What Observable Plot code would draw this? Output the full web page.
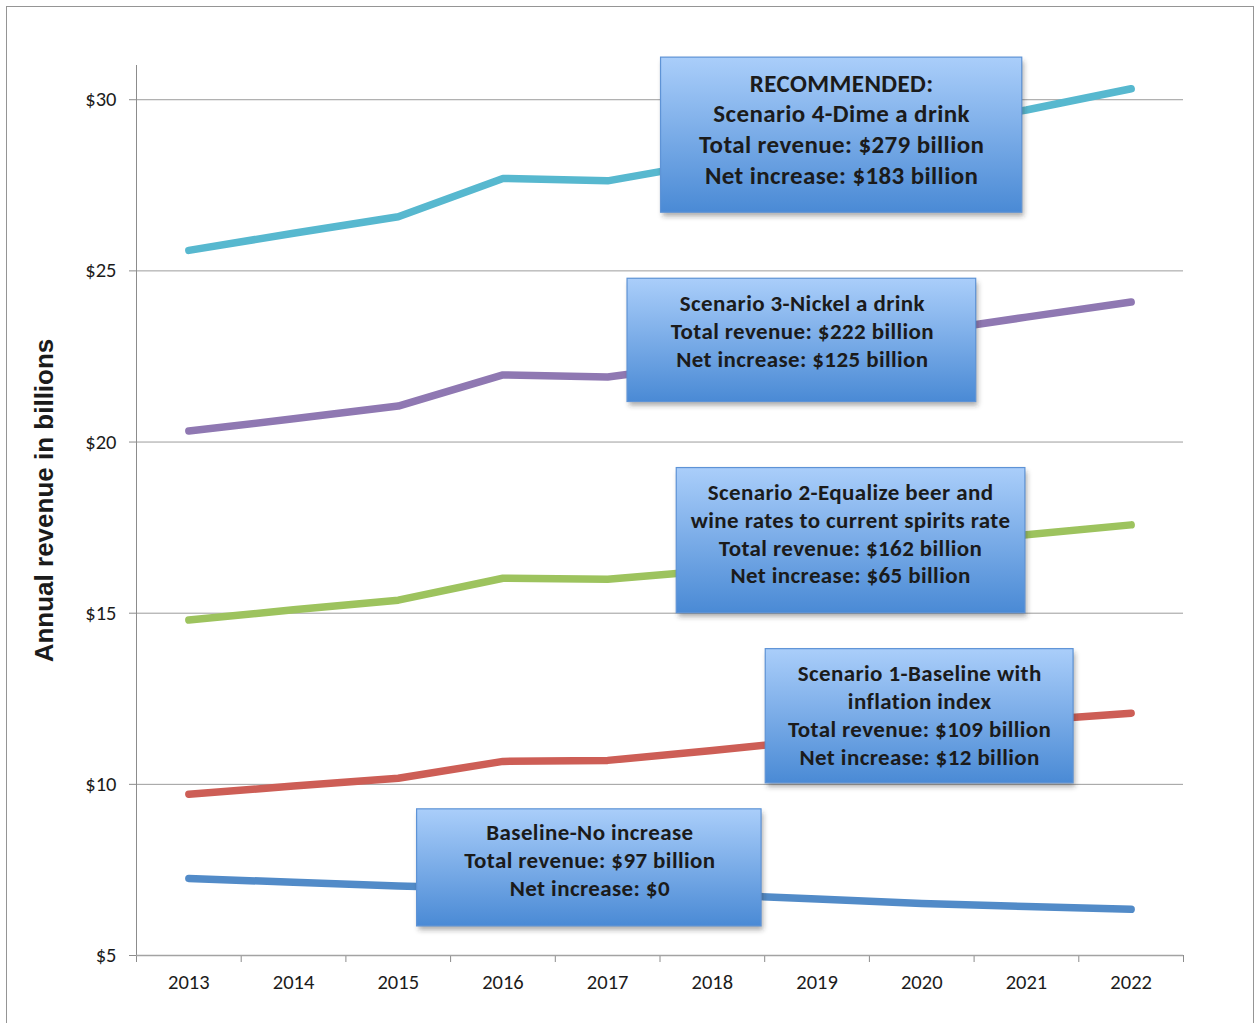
<!DOCTYPE html>
<html><head><meta charset="utf-8">
<script src="https://cdn.jsdelivr.net/npm/d3@7"></script>
<script src="https://cdn.jsdelivr.net/npm/@observablehq/plot@0.6"></script>
<style>
html,body{margin:0;padding:0;background:#fff;overflow:hidden;}
#frame{position:absolute;left:6px;top:6px;width:1246px;height:1100px;border:1.5px solid #959595;pointer-events:none;}
#chart svg text{fill:#1b1b1b;}
</style></head><body><div id="chart"></div><div id="frame"></div>
<script>
const years = [2013, 2014, 2015, 2016, 2017, 2018, 2019, 2020, 2021, 2022];
const baseline  = [7.25, 7.14, 7.03, 6.95, 6.87, 6.78, 6.65, 6.52, 6.43, 6.35];
const scenario1 = [9.71, 9.95, 10.18, 10.67, 10.70, 10.99, 11.30, 11.60, 11.86, 12.08];
const scenario2 = [14.80, 15.10, 15.38, 16.02, 15.99, 16.25, 16.60, 16.95, 17.29, 17.58];
const scenario3 = [20.32, 20.68, 21.05, 21.96, 21.90, 22.30, 22.75, 23.20, 23.65, 24.09];
const scenario4 = [25.60, 26.10, 26.58, 27.70, 27.63, 28.17, 28.68, 29.19, 29.70, 30.32];
const yTicks = [5, 10, 15, 20, 25, 30];
const yTickLabels = ["$5", "$10", "$15", "$20", "$25", "$30"];
const yTitle = "Annual revenue in billions";

const seriesNames = ["Baseline", "Scenario 1", "Scenario 2", "Scenario 3", "Scenario 4"];
const seriesValues = [baseline, scenario1, scenario2, scenario3, scenario4];
const seriesColors = ["#528BC8", "#CD5E56", "#9DC35E", "#8F78B2", "#57B8CF"];

const annotationTexts = [
  "Baseline-No increase\nTotal revenue: $97 billion\nNet increase: $0",
  "Scenario 1-Baseline with\ninflation index\nTotal revenue: $109 billion\nNet increase: $12 billion",
  "Scenario 2-Equalize beer and\nwine rates to current spirits rate\nTotal revenue: $162 billion\nNet increase: $65 billion",
  "Scenario 3-Nickel a drink\nTotal revenue: $222 billion\nNet increase: $125 billion",
  "RECOMMENDED:\nScenario 4-Dime a drink\nTotal revenue: $279 billion\nNet increase: $183 billion"
];
// annotation layout (data units)
const boxes = [
  {x1: 2015.18, x2: 2018.47, y1: 5.85, y2: 9.27, tx: 2016.83, ty: 7.81, size: 23, lh: 1.21},
  {x1: 2018.51, x2: 2021.45, y1: 10.03, y2: 13.95, tx: 2019.98, ty: 12.05, size: 23, lh: 1.21},
  {x1: 2017.66, x2: 2020.99, y1: 15.0, y2: 19.24, tx: 2019.32, ty: 17.35, size: 23, lh: 1.21},
  {x1: 2017.19, x2: 2020.52, y1: 21.17, y2: 24.77, tx: 2018.86, ty: 23.28, size: 23, lh: 1.22},
  {x1: 2017.51, x2: 2020.96, y1: 26.70, y2: 31.23, tx: 2019.235, ty: 29.18, size: 25, lh: 1.228}
].map((b, i) => ({...b, text: annotationTexts[i]}));

const rows = seriesNames.map((name, s) => years.map((year, i) => ({series: name, year, value: seriesValues[s][i]})));
const boundaries = d3.range(years[0] - 0.5, years[years.length - 1] + 1, 1);

const boxFont = "Carlito, Lato, sans-serif";

const chart = Plot.plot({
  width: 1260,
  height: 1023,
  marginTop: 65,
  marginRight: 77,
  marginBottom: 68,
  marginLeft: 136,
  style: {fontFamily: "Carlito, Lato, sans-serif", fontSize: "20.5px", color: "#8c8c8c", background: "white"},
  x: {domain: [years[0] - 0.5, years[years.length - 1] + 0.5], ticks: boundaries, tickFormat: () => "", tickSize: 7, label: null},
  y: {domain: [5, 31], ticks: yTicks, tickFormat: d => yTickLabels[yTicks.indexOf(d)], tickSize: 7, tickPadding: 13, label: null},
  marks: [
    Plot.ruleY(yTicks.slice(1), {stroke: "#9c9c9c", strokeWidth: 1}),
    Plot.ruleX([boundaries[0]], {stroke: "#8c8c8c", strokeWidth: 1}),
    Plot.ruleY([5], {stroke: "#a3a3a3", strokeWidth: 1.5}),
    ...rows.map((r, s) => Plot.line(r, {x: "year", y: "value", stroke: seriesColors[s], strokeWidth: 7.5, strokeLinecap: "round", strokeLinejoin: "round"})),
    Plot.rect(boxes, {x1: "x1", x2: "x2", y1: "y1", y2: "y2", fill: "#333333", fillOpacity: 0.4, dx: 2, dy: 4}),
    Plot.rect(boxes, {x1: "x1", x2: "x2", y1: "y1", y2: "y2", fill: "#7aaae8", stroke: "#5E93D6", strokeWidth: 1.2}),
    ...boxes.map(b => Plot.text([b], {x: "tx", y: "ty", text: "text", fontSize: b.size, lineHeight: b.lh, fontWeight: "bold", fontFamily: boxFont, fill: "#000", textAnchor: "middle"})),
    Plot.text(years, {x: d => d, text: d => String(d), frameAnchor: "bottom", dy: 33, fontSize: 20.5}),
    Plot.text([yTitle], {frameAnchor: "left", textAnchor: "middle", dx: -92, dy: -10, rotate: -90, fontSize: 26, fontWeight: "bold", fontFamily: "Liberation Sans, Arial, sans-serif"})
  ]
});
document.getElementById("chart").appendChild(chart);

const svg = d3.select(chart);
const defs = svg.insert("defs", ":first-child");
const grad = defs.append("linearGradient").attr("id", "boxgrad").attr("x1", 0).attr("y1", 0).attr("x2", 0).attr("y2", 1);
grad.append("stop").attr("offset", "0%").attr("stop-color", "#AACEFA");
grad.append("stop").attr("offset", "100%").attr("stop-color", "#4A8AD5");
const filt = defs.append("filter").attr("id", "shadowblur").attr("x", "-10%").attr("y", "-10%").attr("width", "120%").attr("height", "130%");
filt.append("feGaussianBlur").attr("stdDeviation", 2.5);
svg.selectAll('[fill="#7aaae8"]').attr("fill", "url(#boxgrad)");
svg.selectAll('[fill="#333333"]').attr("filter", "url(#shadowblur)");
svg.selectAll('[font-family="' + boxFont + '"]').style("letter-spacing", "0.4px");
</script></body></html>
